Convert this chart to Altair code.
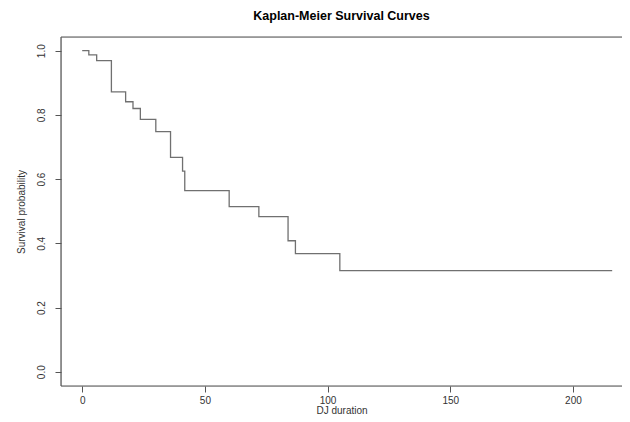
import altair as alt
import pandas as pd

# Kaplan-Meier step curve
times = [0, 2.7, 5.9, 11.9, 17.7, 20.7, 23.7, 30.0, 36.0, 40.9, 41.8, 59.9, 72.0, 83.9, 86.9, 105.0, 216.0]
surv = [1.0, 0.987, 0.969, 0.872, 0.841, 0.820, 0.786, 0.748, 0.668, 0.625, 0.564, 0.514, 0.483, 0.408, 0.368, 0.315, 0.315]

x_ticks = [0, 50, 100, 150, 200]
y_ticks = [0.0, 0.2, 0.4, 0.6, 0.8, 1.0]

W = 561
H = 349
FONT = "Liberation Sans"

df = pd.DataFrame({"time": times, "surv": surv})

x_scale = alt.Scale(domain=[-8.64, 220.0], nice=False, zero=False)
y_scale = alt.Scale(domain=[-0.0445, 1.0427], nice=False, zero=False)

curve = alt.Chart(df).mark_line(
    interpolate="step-after", color="#707070", strokeWidth=1.3
).encode(
    x=alt.X("time:Q", scale=x_scale,
            axis=alt.Axis(values=x_ticks, title="DJ duration", domain=False, grid=False,
                          tickSize=6, tickColor="#555", labelFontSize=10, labelColor="#333",
                          labelPadding=3, titleFontSize=10, titleFontWeight="normal",
                          titleColor="#333", titleY=27, titleBaseline="alphabetic",
                          labelFont=FONT, titleFont=FONT)),
    y=alt.Y("surv:Q", scale=y_scale,
            axis=alt.Axis(values=y_ticks, format=".1f", title="Survival probability",
                          domain=False, grid=False, tickSize=6, tickColor="#555",
                          labelAngle=270, labelAlign="center", labelBaseline="bottom",
                          labelFontSize=10, labelColor="#333", labelPadding=9,
                          titleFontSize=10, titleFontWeight="normal", titleColor="#333",
                          titlePadding=10, labelFont=FONT, titleFont=FONT)),
)

one = alt.Data(values=[{"k": 1}])
box_top = alt.Chart(one).mark_rule(color="#555", strokeWidth=1.2).encode(
    x=alt.value(0), x2=alt.value(W), y=alt.value(0))
box_bottom = alt.Chart(one).mark_rule(color="#555", strokeWidth=1.2).encode(
    x=alt.value(0), x2=alt.value(W), y=alt.value(H))
box_left = alt.Chart(one).mark_rule(color="#555", strokeWidth=1.2).encode(
    x=alt.value(0), y=alt.value(0), y2=alt.value(H))

chart = alt.layer(curve, box_top, box_bottom, box_left).properties(
    width=W, height=H,
    title=alt.TitleParams("Kaplan-Meier Survival Curves", fontSize=12.5, fontWeight="bold",
                          font=FONT, anchor="middle", baseline="middle", offset=8,
                          color="black"),
    autosize=alt.AutoSizeParams(type="none"),
    padding={"left": 53, "top": 29, "right": 0, "bottom": 28},
).configure_view(stroke=None).configure(font=FONT, background="white")

chart.save("out.html", embed_options={"renderer": "svg", "actions": False})
